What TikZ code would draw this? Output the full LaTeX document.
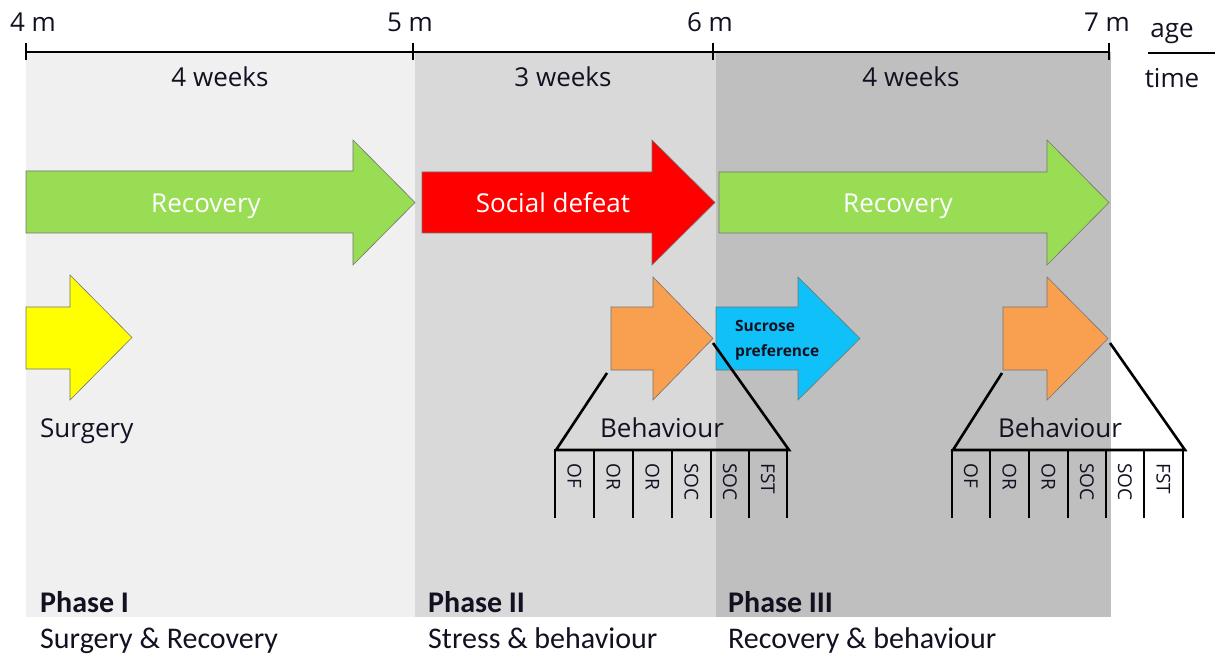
\documentclass[tikz,border=0pt]{standalone}
\usepackage{fontspec}
\setmainfont{Open Sans}
\newfontfamily\calib{Carlito}
\definecolor{phA}{HTML}{F0F0F0}
\definecolor{phB}{HTML}{D9D9D9}
\definecolor{phC}{HTML}{BFBFBF}
\definecolor{agreen}{HTML}{99DD55}
\definecolor{ared}{HTML}{FF0000}
\definecolor{ayellow}{HTML}{FFFF00}
\definecolor{aorange}{HTML}{F9A050}
\definecolor{ablue}{HTML}{10C0F8}
\definecolor{txt}{HTML}{111122}
\tikzset{
  bigtxt/.style={font=\fontsize{26}{30}\selectfont, text=txt, inner sep=0pt},
  arrtxt/.style={font=\fontsize{26}{30}\selectfont, text=white, inner sep=0pt},
  coltxt/.style={font=\fontsize{19}{22}\selectfont, text=txt, rotate=-90, anchor=west, inner sep=0pt},
  phasetxt/.style={font=\calib\bfseries\fontsize{30}{32}\selectfont, text=txt, inner sep=0pt, anchor=base west},
  desctxt/.style={font=\calib\fontsize{30}{32}\selectfont, text=txt, inner sep=0pt, anchor=base west},
  blkarrow/.style={draw=black!55, line width=0.6pt, line join=miter},
  fanline/.style={line width=2.6pt, line cap=butt},
  tickline/.style={line width=2.8pt},
}
% arrow: colour, x0, xh (head start), xt (tip), shaft top, shaft bottom, head top, head bottom
\newcommand{\blockarrow}[8]{%
  \fill[#1, blkarrow] (#2,#5) -- (#3,#5) -- (#3,#7) -- (#4,{(#7+#8)/2}) -- (#3,#8) -- (#3,#6) -- (#2,#6) -- cycle;}
\begin{document}
\begin{tikzpicture}[x=1pt,y=-1pt]
\useasboundingbox (0,0) rectangle (1218,655);
% phase backgrounds
\fill[phA] (26,52) rectangle (415,617);
\fill[phB] (415,52) rectangle (716,617);
\fill[phC] (716,52) rectangle (1111,617);
% timeline
\coordinate (t4) at (26,52);
\coordinate (t5) at (413,52);
\coordinate (t6) at (713,52);
\coordinate (t7) at (1109,52);
\draw[tickline] (t4) -- (t7);
\foreach \t in {t4,t5,t6,t7} \draw[tickline] ([yshift=-8.5pt]\t) -- ([yshift=8.5pt]\t);
\node[bigtxt, anchor=base] (m4) at (33,32) {4 m};
\node[bigtxt, anchor=base] (m5) at (410,32) {5 m};
\node[bigtxt, anchor=base] (m6) at (710,32) {6 m};
\node[bigtxt, anchor=base] (m7) at (1107,32) {7 m};
\node[bigtxt, anchor=base] (w1) at (220,87) {4 weeks};
\node[bigtxt, anchor=base] (w2) at (563,87) {3 weeks};
\node[bigtxt, anchor=base] (w3) at (911,87) {4 weeks};
\node[bigtxt, anchor=base] (age) at (1172,38) {age};
\node[bigtxt, anchor=base] (time) at (1172,88) {time};
\draw[line width=2.6pt] (1148,53) -- (1215,53);
% arrows row 1
\blockarrow{agreen}{26}{353}{415}{171}{233}{140}{265}
\blockarrow{ared}{422}{652}{715}{172}{233}{140}{265}
\blockarrow{agreen}{719}{1047}{1109}{172}{233}{140}{265}
\node[arrtxt, anchor=base] (rec1) at (206,213) {Recovery};
\node[arrtxt, anchor=base] (sd) at (553,213) {Social defeat};
\node[arrtxt, anchor=base] (rec2) at (898,213) {Recovery};
% arrows row 2
\blockarrow{ayellow}{26}{70}{132}{307}{369}{275}{400}
\blockarrow{aorange}{611}{653}{713}{307}{370}{277}{400}
\blockarrow{ablue}{716}{798}{860}{307}{370}{277}{400}
\blockarrow{aorange}{1003}{1047}{1108}{307}{370}{277}{400}
\node[font=\bfseries\fontsize{15.5}{25}\selectfont, text=txt, align=left, anchor=north west, inner sep=0pt] (suc) at (735,320) {Sucrose\\preference};
\node[bigtxt, anchor=base west] (surg) at (40,437) {Surgery};
% fan 1
\coordinate (f1a) at (607,373);
\coordinate (f1b) at (713,343);
\coordinate (f1l) at (556,450);
\coordinate (f1r) at (789,450);
\draw[fanline] (f1a) -- (f1l) -- (f1r) -- (f1b);
\node[bigtxt, anchor=base] (beh1) at (662,437) {Behaviour};
\foreach \x in {555,594,633,672,711,749,787} \draw[fanline] (\x,449) -- (\x,518);
\foreach \x/\l [count=\i] in {574.5/OF,613.5/OR,652.5/OR,691.5/SOC,730/SOC,768/FST}
  \node[coltxt] (c1\i) at (\x,463) {\l};
% fan 2
\coordinate (f2a) at (1002,373);
\coordinate (f2b) at (1110,343);
\coordinate (f2l) at (953,450);
\coordinate (f2r) at (1185,450);
\draw[fanline] (f2a) -- (f2l) -- (f2r) -- (f2b);
\node[bigtxt, anchor=base] (beh2) at (1060,437) {Behaviour};
\foreach \x in {952,990,1029,1068,1106,1144,1183} \draw[fanline] (\x,449) -- (\x,518);
\foreach \x/\l [count=\i] in {971/OF,1009.5/OR,1048.5/OR,1087/SOC,1125/SOC,1163.5/FST}
  \node[coltxt] (c2\i) at (\x,463) {\l};
% phase labels
\node[phasetxt] (p1) at (40,612) {Phase I};
\node[phasetxt] (p2) at (428,612) {Phase II};
\node[phasetxt] (p3) at (728,612) {Phase III};
\node[desctxt] (d1) at (40,648) {Surgery \& Recovery};
\node[desctxt] (d2) at (428,648) {Stress \& behaviour};
\node[desctxt] (d3) at (728,648) {Recovery \& behaviour};
\end{tikzpicture}
\end{document}
